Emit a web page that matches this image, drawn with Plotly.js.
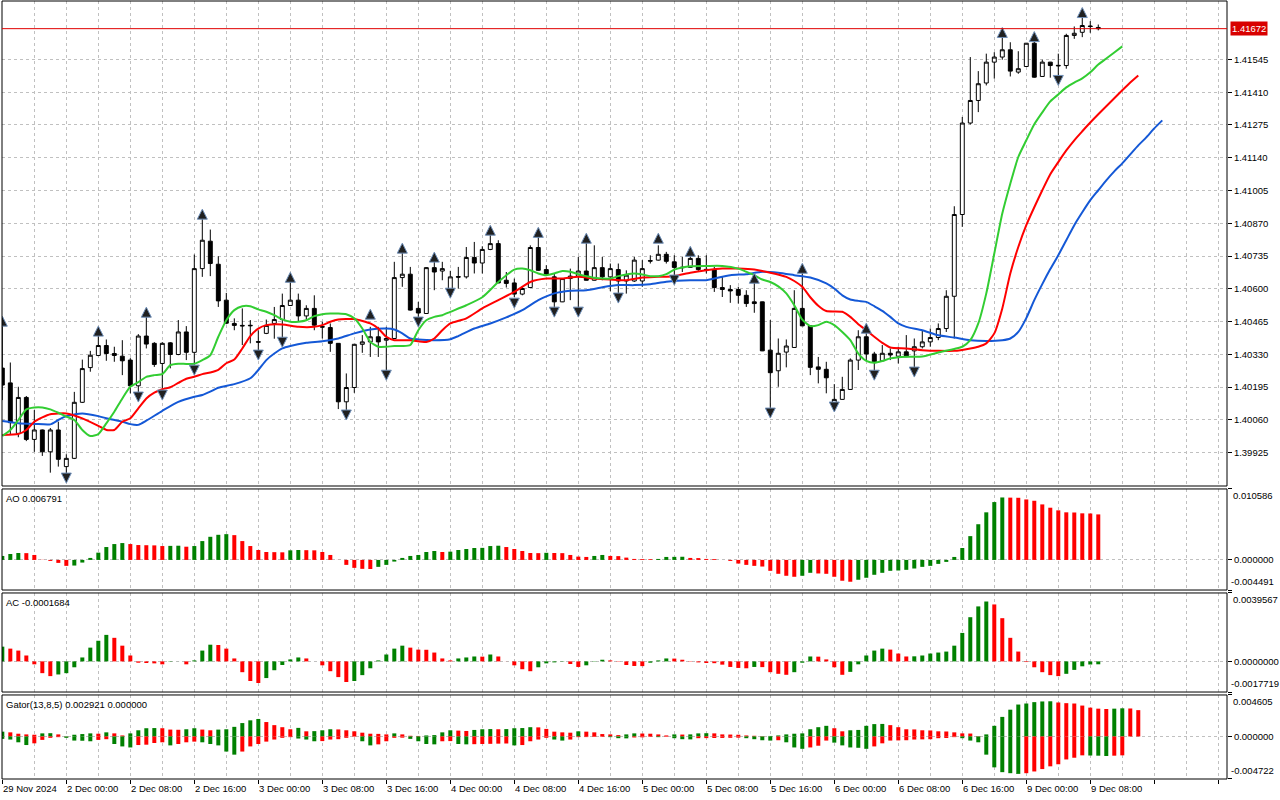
<!DOCTYPE html>
<html><head><meta charset="utf-8">
<script src="https://cdn.plot.ly/plotly-3.0.1.min.js"></script>
<style>html,body{margin:0;padding:0;background:#fff;overflow:hidden}#chart{width:1280px;height:800px}</style>
</head><body><div id="chart"></div>
<script>
// ---- candles (H1, 29 Nov 16:00 .. 9 Dec 09:00) ----
const open=[
1.40273,1.40212,1.40004,1.40152,1.39979,1.40018,1.39928,1.40018,1.39867,1.39901,
1.40132,1.40275,1.40325,1.40366,1.40333,1.40322,1.40306,1.40200,1.40405,1.40375,
1.40292,1.40377,1.40329,1.40422,1.40338,1.40683,1.40796,1.40701,1.40553,1.40457,
1.40449,1.40447,1.40382,1.40416,1.40457,1.40473,1.40531,1.40553,1.40488,1.40519,
1.40444,1.40440,1.40375,1.40134,1.40193,1.40371,1.40381,1.40402,1.40388,1.40395,
1.40646,1.40660,1.40519,1.40498,1.40687,1.40673,1.40597,1.40650,1.40649,1.40729,
1.40706,1.40762,1.40786,1.40635,1.40624,1.40578,1.40605,1.40770,1.40679,1.40649,
1.40546,1.40642,1.40652,1.40673,1.40635,1.40687,1.40649,1.40679,1.40632,1.40632,
1.40632,1.40716,1.40718,1.40742,1.40711,1.40689,1.40688,1.40725,1.40680,1.40679,
1.40605,1.40597,1.40597,1.40573,1.40546,1.40546,1.40347,1.40262,1.40339,1.40358,
1.40519,1.40447,1.40278,1.40268,1.40128,1.40144,1.40185,1.40306,1.40402,1.40331,
1.40303,1.40334,1.40322,1.40340,1.40344,1.40361,1.40381,1.40399,1.40436,1.40569,
1.40906,1.41283,1.41376,1.41448,1.41534,1.41555,1.41585,1.41493,1.41516,1.41612,
1.41475,1.41534,1.41521,1.41520,1.41644,1.41657,1.41683,1.41677];
const high=[
1.40450,1.40296,1.40196,1.40158,1.40100,1.40020,1.40026,1.40052,1.39918,1.40175,
1.40308,1.40344,1.40409,1.40391,1.40361,1.40388,1.40314,1.40413,1.40487,1.40380,
1.40380,1.40380,1.40471,1.40446,1.40741,1.40907,1.40844,1.40734,1.40583,1.40478,
1.40519,1.40471,1.40429,1.40473,1.40525,1.40580,1.40632,1.40580,1.40532,1.40573,
1.40464,1.40457,1.40376,1.40251,1.40372,1.40409,1.40443,1.40443,1.40443,1.40711,
1.40752,1.40690,1.40546,1.40689,1.40718,1.40711,1.40674,1.40690,1.40772,1.40793,
1.40775,1.40825,1.40800,1.40669,1.40642,1.40611,1.40779,1.40813,1.40697,1.40663,
1.40643,1.40683,1.40731,1.40793,1.40779,1.40731,1.40704,1.40704,1.40676,1.40731,
1.40718,1.40738,1.40779,1.40752,1.40738,1.40731,1.40738,1.40738,1.40738,1.40690,
1.40649,1.40615,1.40608,1.40594,1.40628,1.40547,1.40471,1.40395,1.40391,1.40594,
1.40676,1.40448,1.40319,1.40299,1.40207,1.40237,1.40313,1.40429,1.40443,1.40340,
1.40368,1.40354,1.40361,1.40409,1.40395,1.40429,1.40436,1.40457,1.40594,1.40940,
1.41308,1.41555,1.41497,1.41569,1.41575,1.41640,1.41616,1.41579,1.41613,1.41626,
1.41544,1.41535,1.41569,1.41651,1.41681,1.41726,1.41703,1.41689];
const low=[
1.40141,1.39997,1.39988,1.39972,1.39928,1.39911,1.39842,1.39867,1.39819,1.39898,
1.40129,1.40258,1.40322,1.40303,1.40299,1.40244,1.40169,1.40169,1.40354,1.40278,
1.40189,1.40272,1.40326,1.40306,1.40285,1.40649,1.40652,1.40525,1.40454,1.40429,
1.40368,1.40375,1.40340,1.40413,1.40394,1.40391,1.40530,1.40464,1.40473,1.40429,
1.40395,1.40340,1.40104,1.40093,1.40171,1.40336,1.40319,1.40319,1.40254,1.40394,
1.40608,1.40510,1.40464,1.40497,1.40594,1.40635,1.40596,1.40601,1.40642,1.40663,
1.40663,1.40759,1.40623,1.40605,1.40566,1.40573,1.40604,1.40674,1.40656,1.40515,
1.40545,1.40553,1.40509,1.40634,1.40634,1.40635,1.40590,1.40580,1.40580,1.40628,
1.40608,1.40704,1.40716,1.40704,1.40652,1.40669,1.40687,1.40669,1.40663,1.40587,
1.40566,1.40542,1.40539,1.40525,1.40501,1.40343,1.40100,1.40196,1.40276,1.40357,
1.40446,1.40244,1.40210,1.40169,1.40127,1.40143,1.40184,1.40265,1.40306,1.40258,
1.40302,1.40306,1.40292,1.40318,1.40258,1.40354,1.40361,1.40388,1.40422,1.40395,
1.40855,1.41277,1.41328,1.41438,1.41466,1.41544,1.41475,1.41486,1.41515,1.41470,
1.41474,1.41470,1.41466,1.41507,1.41630,1.41637,1.41655,1.41665];
const close=[
1.40203,1.40048,1.40152,1.39979,1.40018,1.39928,1.40018,1.39897,1.39901,1.40132,
1.40271,1.40326,1.40366,1.40333,1.40325,1.40303,1.40200,1.40405,1.40372,1.40288,
1.40375,1.40329,1.40422,1.40338,1.40683,1.40800,1.40704,1.40550,1.40458,1.40449,
1.40447,1.40449,1.40380,1.40449,1.40473,1.40531,1.40553,1.40488,1.40519,1.40450,
1.40442,1.40375,1.40134,1.40193,1.40371,1.40381,1.40402,1.40381,1.40395,1.40646,
1.40660,1.40512,1.40500,1.40687,1.40669,1.40683,1.40649,1.40648,1.40729,1.40706,
1.40762,1.40786,1.40624,1.40622,1.40578,1.40601,1.40770,1.40676,1.40660,1.40546,
1.40642,1.40652,1.40673,1.40635,1.40687,1.40649,1.40683,1.40632,1.40656,1.40718,
1.40683,1.40714,1.40742,1.40713,1.40688,1.40687,1.40725,1.40679,1.40678,1.40605,
1.40597,1.40591,1.40573,1.40539,1.40539,1.40344,1.40254,1.40334,1.40364,1.40519,
1.40447,1.40276,1.40268,1.40233,1.40144,1.40185,1.40306,1.40402,1.40331,1.40299,
1.40334,1.40327,1.40340,1.40320,1.40361,1.40381,1.40399,1.40436,1.40569,1.40906,
1.41283,1.41376,1.41445,1.41534,1.41555,1.41585,1.41497,1.41507,1.41612,1.41472,
1.41534,1.41520,1.41519,1.41644,1.41653,1.41685,1.41681,1.41672];

// ---- time axis labels (one every 8 bars) ----
const timeLabels=['29 Nov 2024','2 Dec 00:00','2 Dec 08:00','2 Dec 16:00','3 Dec 00:00','3 Dec 08:00','3 Dec 16:00','4 Dec 00:00','4 Dec 08:00','4 Dec 16:00','5 Dec 00:00','5 Dec 08:00','5 Dec 16:00','6 Dec 00:00','6 Dec 08:00','6 Dec 16:00','9 Dec 00:00','9 Dec 08:00'];
const priceTicks=[1.39925,1.40060,1.40195,1.40330,1.40465,1.40600,1.40735,1.40870,1.41005,1.41140,1.41275,1.41410,1.41545];

// ---- Alligator (read at bar positions, lines shifted forward) ----
const jawIdx=[0,2,4,6,7,8,10,12,13,15,16,17,18,20,22,24,25,26,27,29,31,32,33,34,35,36,38,40,42,44,46,48,49,50,51,52,54,56,57,59,61,63,65,67,69,71,73,75,77,79,81,83,86,88,89,91,93,95,97,99,101,103,104,105,106,107,108,109,110,111,112,113,115,117,119,121,123,125,126,127,128,129,130,131,132,133,134,135,136,137,138,139,140,141,142,143,144,145];
const jawVal=[1.40055,1.40046,1.40043,1.40041,1.40059,1.40075,1.40086,1.40075,1.40066,1.40052,1.40042,1.40039,1.40056,1.40097,1.40134,1.40155,1.40162,1.40176,1.40192,1.40207,1.40231,1.40265,1.40306,1.40333,1.40354,1.40364,1.40377,1.40384,1.40395,1.40416,1.40432,1.40436,1.40432,1.40416,1.40395,1.40391,1.40388,1.40392,1.40405,1.40436,1.40457,1.40482,1.40512,1.40553,1.40581,1.40592,1.40594,1.40606,1.40615,1.40615,1.40619,1.40629,1.40635,1.40635,1.40642,1.40656,1.40660,1.40670,1.40666,1.40656,1.40646,1.40622,1.40601,1.40573,1.40556,1.40550,1.40546,1.40528,1.40509,1.40484,1.40457,1.40443,1.40429,1.40408,1.40399,1.40388,1.40385,1.40388,1.40395,1.40422,1.40479,1.40553,1.40619,1.40681,1.40738,1.40800,1.40862,1.40915,1.40965,1.41006,1.41047,1.41084,1.41117,1.41154,1.41191,1.41224,1.41261,1.41294];
const teethIdx=[0,2,3,4,5,6,8,10,12,13,14,15,16,17,18,19,20,21,22,23,24,25,26,27,28,29,30,31,32,33,35,37,39,40,41,42,44,46,47,48,49,51,53,54,55,56,58,60,62,64,66,68,70,72,74,76,78,80,82,84,86,88,90,92,94,96,98,99,100,101,102,103,105,106,107,108,109,110,111,113,115,117,119,121,122,123,124,125,126,127,128,129,130,131,132,133,134,135,136,137,138,139,140,141,142];
const teethVal=[1.39997,1.40001,1.40018,1.40052,1.40070,1.40083,1.40086,1.40066,1.40035,1.40018,1.40018,1.40052,1.40066,1.40107,1.40148,1.40172,1.40186,1.40194,1.40212,1.40229,1.40237,1.40248,1.40255,1.40266,1.40293,1.40308,1.40354,1.40405,1.40436,1.40450,1.40453,1.40443,1.40443,1.40450,1.40464,1.40473,1.40475,1.40457,1.40436,1.40402,1.40388,1.40388,1.40381,1.40395,1.40429,1.40457,1.40478,1.40519,1.40553,1.40587,1.40628,1.40642,1.40642,1.40649,1.40642,1.40638,1.40635,1.40646,1.40649,1.40652,1.40666,1.40676,1.40683,1.40683,1.40679,1.40666,1.40649,1.40632,1.40608,1.40565,1.40530,1.40508,1.40505,1.40484,1.40454,1.40429,1.40402,1.40377,1.40358,1.40354,1.40347,1.40344,1.40344,1.40354,1.40361,1.40375,1.40416,1.40519,1.40663,1.40772,1.40862,1.40936,1.41006,1.41072,1.41122,1.41170,1.41212,1.41249,1.41285,1.41319,1.41352,1.41385,1.41418,1.41450,1.41479];
const lipsIdx=[0,1,2,3,4,5,6,7,8,9,10,11,12,13,14,15,16,17,18,19,20,21,22,23,24,25,26,27,28,29,30,31,32,33,34,35,36,37,38,39,40,41,42,43,44,45,46,47,48,49,50,51,52,53,54,55,56,58,60,62,64,65,66,67,68,69,70,71,72,73,74,75,76,77,78,79,80,81,82,83,84,85,86,88,90,92,93,94,95,96,97,98,99,100,101,102,103,104,105,106,107,108,109,110,111,113,115,117,119,120,121,122,123,124,125,126,127,128,129,130,131,132,133,134,135,136,137,138,139,140];
const lipsVal=[1.39993,1.40018,1.40059,1.40103,1.40111,1.40111,1.40103,1.40089,1.40073,1.40059,1.40018,1.39993,1.40001,1.40045,1.40093,1.40148,1.40196,1.40215,1.40237,1.40244,1.40248,1.40285,1.40291,1.40290,1.40291,1.40306,1.40326,1.40402,1.40470,1.40512,1.40528,1.40528,1.40515,1.40505,1.40491,1.40474,1.40464,1.40464,1.40470,1.40487,1.40495,1.40498,1.40498,1.40495,1.40478,1.40436,1.40381,1.40361,1.40361,1.40364,1.40364,1.40368,1.40429,1.40470,1.40484,1.40491,1.40505,1.40532,1.40565,1.40628,1.40679,1.40683,1.40676,1.40663,1.40656,1.40663,1.40673,1.40670,1.40660,1.40652,1.40645,1.40642,1.40642,1.40652,1.40659,1.40663,1.40659,1.40652,1.40652,1.40660,1.40679,1.40688,1.40693,1.40694,1.40694,1.40683,1.40670,1.40656,1.40638,1.40628,1.40610,1.40581,1.40532,1.40473,1.40446,1.40450,1.40464,1.40450,1.40422,1.40388,1.40333,1.40303,1.40295,1.40302,1.40313,1.40320,1.40321,1.40337,1.40352,1.40361,1.40388,1.40457,1.40581,1.40745,1.40910,1.41033,1.41143,1.41212,1.41278,1.41327,1.41372,1.41401,1.41430,1.41450,1.41467,1.41492,1.41524,1.41549,1.41574,1.41599];

// ---- Fractals (arrow positions) ----
const fracUpIdx=[0,12,18,25,36,46,50,54,61,67,73,82,86,94,100,108,125,129,135];
const fracUpVal=[1.40487,1.40446,1.40524,1.40928,1.40668,1.40516,1.40788,1.40751,1.40862,1.40853,1.40829,1.40829,1.40775,1.40664,1.40705,1.40458,1.41677,1.41660,1.41759];
const fracDnIdx=[8,17,20,24,32,35,43,48,52,56,64,69,72,77,84,96,104,109,114,132];
const fracDnVal=[1.39799,1.40133,1.40141,1.40244,1.40306,1.40359,1.40059,1.40223,1.40442,1.40561,1.40520,1.40483,1.40483,1.40541,1.40615,1.40067,1.40092,1.40223,1.40236,1.41438];

// ---- Awesome Oscillator ----
const ao=[0.000592,0.000887,0.001035,0.001011,0.000740,0.000025,-0.000148,-0.000444,-0.000887,-0.000838,
-0.000394,0.000296,0.001085,0.001923,0.002366,0.002514,0.002366,0.002219,0.002194,0.002169,
0.002071,0.002095,0.002120,0.001972,0.002071,0.002810,0.003451,0.003747,0.003845,0.003698,
0.002810,0.002071,0.001479,0.001183,0.001159,0.001134,0.001430,0.001479,0.001454,0.001430,
0.001183,0.000740,0.000010,-0.000740,-0.001183,-0.001331,-0.001356,-0.001035,-0.000740,-0.000247,
0.000296,0.000592,0.000740,0.001183,0.001331,0.001183,0.001233,0.001479,0.001627,0.001775,
0.001799,0.002071,0.002120,0.001923,0.001627,0.001331,0.001035,0.001011,0.001060,0.001035,
0.001011,0.000740,0.000493,0.000444,0.000592,0.000740,0.000592,0.000567,0.000345,0.000148,
0.000123,0.000108,0.000148,0.000444,0.000458,0.000473,0.000296,0.000271,0.000148,0.000123,
0.000005,-0.000148,-0.000542,-0.000740,-0.000887,-0.000986,-0.001627,-0.002071,-0.002366,-0.002514,
-0.002366,-0.001923,-0.002021,-0.002071,-0.002514,-0.003106,-0.003254,-0.002958,-0.002662,-0.002219,
-0.001923,-0.001627,-0.001578,-0.001479,-0.001282,-0.001035,-0.000887,-0.000592,-0.000296,0.000444,
0.001775,0.003550,0.005324,0.007099,0.008628,0.009318,0.009293,0.009268,0.009022,0.008825,
0.008282,0.007789,0.007395,0.007099,0.007075,0.006951,0.006927,0.006791];
const aoScale=[-0.004491,0.000000,0.010586];

// ---- Accelerator Oscillator ----
const ac=[0.000852,0.000738,0.000625,0.000341,-0.000170,-0.000681,-0.000852,-0.000757,-0.000681,-0.000341,
0.000227,0.000795,0.001193,0.001533,0.001363,0.000909,0.000341,-0.000076,-0.000095,-0.000114,
-0.000170,-0.000019,0.000002,-0.000170,0.000057,0.000625,0.000965,0.000947,0.000738,0.000170,
-0.000625,-0.001136,-0.001249,-0.000965,-0.000511,-0.000208,0.000114,0.000227,0.000170,-0.000002,
-0.000227,-0.000568,-0.000909,-0.001193,-0.001136,-0.000795,-0.000398,0.000057,0.000398,0.000738,
0.000909,0.000795,0.000681,0.000672,0.000511,0.000170,0.000057,0.000170,0.000227,0.000284,
0.000274,0.000398,0.000284,-0.000004,-0.000227,-0.000454,-0.000568,-0.000341,-0.000114,-0.000057,
-0.000019,-0.000151,-0.000322,-0.000227,-0.000019,0.000095,0.000057,-0.000019,-0.000208,-0.000265,
-0.000274,-0.000076,0.000057,0.000170,0.000161,0.000095,-0.000019,-0.000057,-0.000095,-0.000104,
-0.000189,-0.000322,-0.000379,-0.000398,-0.000322,-0.000331,-0.000625,-0.000719,-0.000776,-0.000625,
-0.000076,0.000284,0.000274,0.000114,-0.000341,-0.000776,-0.000606,-0.000170,0.000341,0.000625,
0.000738,0.000681,0.000454,0.000284,0.000293,0.000341,0.000454,0.000511,0.000568,0.000909,
0.001647,0.002556,0.003180,0.003464,0.003294,0.002499,0.001363,0.000568,-0.000038,-0.000341,
-0.000625,-0.000795,-0.000852,-0.000719,-0.000492,-0.000284,-0.000180,-0.0001684];
const acScale=[-0.0017719,0.0000000,0.0039567];

// ---- Gator Oscillator (13,8,5) ----
const gatorUp=[0.000533,0.000457,0.000305,0.000229,0.000191,0.000343,0.000362,0.000229,0.000019,0.000191,
0.000267,0.000343,0.000305,0.000457,0.000343,0.000114,0.000343,0.000686,0.000914,0.000933,
0.000914,0.000762,0.000743,0.000800,0.000914,0.000762,0.000686,0.000762,0.000800,0.001067,
0.001486,0.001791,0.001943,0.001600,0.001257,0.001029,0.000800,0.000953,0.000572,0.000591,
0.000686,0.000800,0.000781,0.000686,0.000572,0.000419,0.000305,0.000286,0.000229,0.000343,
0.000229,0.000076,0.000057,0.000114,0.000152,0.000457,0.000686,0.000648,0.000610,0.000724,
0.000800,0.000819,0.000800,0.000819,0.000914,0.000933,0.001029,0.001010,0.000838,0.000533,
0.000457,0.000419,0.000572,0.000533,0.000457,0.000267,0.000229,0.000152,0.000229,0.000343,
0.000324,0.000305,0.000229,0.000114,0.000229,0.000210,0.000229,0.000343,0.000362,0.000343,
0.000229,0.000210,0.000191,0.000114,0.000076,0.000038,0.000057,0.000114,0.000229,0.000305,
0.000343,0.000800,0.001029,0.001181,0.000914,0.000572,0.000686,0.000724,0.001181,0.001372,
0.001391,0.001257,0.001029,0.000800,0.000781,0.000686,0.000667,0.000572,0.000552,0.000457,
0.000343,0.000324,0.000038,0.000229,0.001181,0.002172,0.002972,0.003543,0.003658,0.003810,
0.003886,0.003905,0.003772,0.003696,0.003658,0.003429,0.003200,0.003086,0.003048,0.003086,
0.003124,0.003105,0.002921];
const gatorDn=[-0.000267,-0.000343,-0.000648,-0.000953,-0.000762,-0.000381,-0.000152,-0.000076,-0.000152,-0.000457,
-0.000476,-0.000533,-0.000381,-0.000305,-0.000838,-0.001105,-0.001219,-0.000953,-0.000914,-0.000724,
-0.000648,-0.000991,-0.000838,-0.000648,-0.000572,-0.000648,-0.000838,-0.000991,-0.001676,-0.002019,
-0.001676,-0.001105,-0.000838,-0.000572,-0.000343,-0.000152,-0.000076,-0.000229,-0.000343,-0.000533,
-0.000514,-0.000343,-0.000305,-0.000152,-0.000019,-0.000533,-0.000991,-0.000876,-0.000533,-0.000152,
-0.000133,-0.000267,-0.000533,-0.000838,-0.000876,-0.000533,-0.000514,-0.000838,-0.000876,-0.000857,
-0.000838,-0.000819,-0.000800,-0.000781,-0.000991,-0.000953,-0.000533,-0.000343,-0.000152,-0.000343,
-0.000457,-0.000343,-0.000076,-0.000069,-0.000057,-0.000038,-0.000076,-0.000191,-0.000210,-0.000114,
-0.000095,-0.000038,-0.000076,-0.000038,-0.000191,-0.000305,-0.000324,-0.000191,-0.000183,-0.000171,
-0.000164,-0.000152,-0.000133,-0.000191,-0.000305,-0.000419,-0.000457,-0.000419,-0.000648,-0.001219,
-0.001372,-0.001219,-0.001029,-0.000457,-0.000686,-0.000991,-0.001219,-0.001257,-0.001372,-0.001105,
-0.000762,-0.000457,-0.000438,-0.000419,-0.000343,-0.000324,-0.000305,-0.000191,-0.000171,-0.000076,
-0.000191,-0.000457,-0.000648,-0.002019,-0.003429,-0.003962,-0.004077,-0.004153,-0.004077,-0.003886,
-0.003620,-0.003315,-0.003086,-0.002553,-0.002362,-0.002096,-0.002115,-0.002134,-0.002172,-0.002134,
-0.002096];
const gatorScale=[-0.004722,0.000000,0.004605];

// ================= drawing =================
const GREEN='#008000', RED='#ff0000', GRID='#c0c0c0', FONT='Liberation Sans, Arial, sans-serif';
const idx=close.map((_,i)=>i);
const upDown=(arr,absMode)=>arr.map((v,i)=>{
  if(i===0) return GREEN;
  const a=absMode?Math.abs(v):v, b=absMode?Math.abs(arr[i-1]):arr[i-1];
  return a>=b?GREEN:RED;
});
const seq=n=>Array.from({length:n},(_,i)=>i);

const traces=[
 {type:'scatter',mode:'lines',x:jawIdx,y:jawVal,line:{color:'#1458d6',width:2,shape:'spline',smoothing:0.6},xaxis:'x',yaxis:'y',hoverinfo:'skip'},
 {type:'scatter',mode:'lines',x:teethIdx,y:teethVal,line:{color:'#ff0000',width:2,shape:'spline',smoothing:0.6},xaxis:'x',yaxis:'y',hoverinfo:'skip'},
 {type:'scatter',mode:'lines',x:lipsIdx,y:lipsVal,line:{color:'#32cd32',width:2,shape:'spline',smoothing:0.6},xaxis:'x',yaxis:'y',hoverinfo:'skip'},
 {type:'candlestick',x:idx,open:open,high:high,low:low,close:close,xaxis:'x',yaxis:'y',
  increasing:{line:{color:'#000000',width:1},fillcolor:'#ffffff'},
  decreasing:{line:{color:'#000000',width:1},fillcolor:'#000000'},
  whiskerwidth:0,hoverinfo:'skip'},
 {type:'scatter',mode:'markers',x:fracUpIdx,y:fracUpVal,xaxis:'x',yaxis:'y',
  marker:{symbol:'arrow-up',size:10,color:'#202020',line:{color:'#6f8fb8',width:1}},hoverinfo:'skip'},
 {type:'scatter',mode:'markers',x:fracDnIdx,y:fracDnVal,xaxis:'x',yaxis:'y',
  marker:{symbol:'arrow-down',size:10,color:'#202020',line:{color:'#6f8fb8',width:1}},hoverinfo:'skip'},
 {type:'bar',x:idx,y:ao,width:0.5,marker:{color:upDown(ao,false),line:{width:0}},xaxis:'x',yaxis:'y2',hoverinfo:'skip'},
 {type:'bar',x:idx,y:ac,width:0.5,marker:{color:upDown(ac,false),line:{width:0}},xaxis:'x',yaxis:'y3',hoverinfo:'skip'},
 {type:'bar',x:seq(gatorUp.length),y:gatorUp,width:0.5,marker:{color:upDown(gatorUp,true),line:{width:0}},xaxis:'x',yaxis:'y4',hoverinfo:'skip'},
 {type:'bar',x:seq(gatorDn.length),y:gatorDn,width:0.5,marker:{color:upDown(gatorDn,true),line:{width:0}},xaxis:'x',yaxis:'y4',hoverinfo:'skip'}
];

const domMain=[0.3766,1], domAO=[0.2429,0.3728], domAC=[0.1118,0.2391], domG=[0,0.108];
const tf={family:FONT,size:9.5,color:'#000'};
const subAxis=(dom,scale,digits)=>({
  domain:dom, range:[scale[0],scale[2]], side:'right', anchor:'x',
  tickmode:'array', tickvals:scale, ticktext:['',scale[1].toFixed(digits),''],
  ticks:'outside', ticklen:4, tickcolor:'#000', tickfont:tf,
  showgrid:true, gridcolor:GRID, griddash:'3px,3px', zeroline:false, showline:false, fixedrange:true
});

const annotations=[];
timeLabels.forEach((t,k)=>annotations.push({xref:'x',x:k*8,xanchor:'left',xshift:0,yref:'paper',y:0,yanchor:'top',yshift:-3,
  text:t,showarrow:false,font:tf,borderpad:0}));
const subs=[['y2',aoScale,6],['y3',acScale,7],['y4',gatorScale,6]];
subs.forEach(([ax,s,d])=>{
  annotations.push({xref:'paper',x:1,xanchor:'left',xshift:5,yref:ax,y:s[2],yanchor:'top',yshift:0,text:s[2].toFixed(d),showarrow:false,font:tf,borderpad:0});
  annotations.push({xref:'paper',x:1,xanchor:'left',xshift:3,yref:ax,y:s[0],yanchor:'bottom',yshift:2,text:s[0].toFixed(d),showarrow:false,font:tf,borderpad:0});
});
const last=close[close.length-1];
annotations.push({xref:'paper',x:1,xanchor:'left',xshift:3,yref:'y',y:last,yanchor:'middle',text:last.toFixed(5),
  showarrow:false,font:{family:FONT,size:9.5,color:'#ffffff'},bgcolor:'#d80000',borderpad:1});
annotations.push({xref:'paper',x:0,xanchor:'left',xshift:3,yref:'y2 domain',y:1,yanchor:'top',yshift:-3,
  text:'AO '+ao[ao.length-1].toFixed(6),showarrow:false,font:tf,borderpad:0});
annotations.push({xref:'paper',x:0,xanchor:'left',xshift:3,yref:'y3 domain',y:1,yanchor:'top',yshift:-3,
  text:'AC '+ac[ac.length-1].toFixed(7),showarrow:false,font:tf,borderpad:0});
annotations.push({xref:'paper',x:0,xanchor:'left',xshift:3,yref:'y4 domain',y:1,yanchor:'top',yshift:-3,
  text:'Gator(13,8,5) '+gatorUp[gatorUp.length-1].toFixed(6)+' '+(0).toFixed(6),showarrow:false,font:tf,borderpad:0});

const shapes=[domMain,domAO,domAC,domG].map(d=>({type:'rect',xref:'paper',yref:'paper',x0:0,x1:1,y0:d[0],y1:d[1],
  line:{color:'#000',width:1},fillcolor:'rgba(0,0,0,0)',layer:'above'}));
shapes.push({type:'line',xref:'paper',x0:0,x1:1,yref:'y',y0:last,y1:last,line:{color:'#e00000',width:1},layer:'above'});

const layout={
  width:1280,height:800,margin:{l:2,r:53,t:1,b:21},
  paper_bgcolor:'#ffffff',plot_bgcolor:'#ffffff',showlegend:false,hovermode:false,
  barmode:'overlay',
  font:tf,
  xaxis:{domain:[0,1],range:[-0.04,153.09],anchor:'y4',tickmode:'linear',tick0:0,dtick:8,
    ticks:'outside',ticklen:4,tickcolor:'#000',showticklabels:false,
    showgrid:true,gridcolor:GRID,griddash:'3px,3px',
    minor:{tickmode:'linear',tick0:0,dtick:4,showgrid:true,gridcolor:GRID,griddash:'3px,3px',ticks:''},
    zeroline:false,showline:false,rangeslider:{visible:false},fixedrange:true},
  yaxis:{domain:domMain,range:[1.39787,1.41786],side:'right',anchor:'x',
    tickmode:'array',tickvals:priceTicks,ticktext:priceTicks.map(v=>v.toFixed(5)),
    ticks:'outside',ticklen:4,tickcolor:'#000',tickfont:tf,
    showgrid:true,gridcolor:GRID,griddash:'3px,3px',zeroline:false,showline:false,fixedrange:true},
  yaxis2:subAxis(domAO,aoScale,6),
  yaxis3:subAxis(domAC,acScale,7),
  yaxis4:subAxis(domG,gatorScale,6),
  annotations:annotations,shapes:shapes
};
Plotly.newPlot('chart',traces,layout,{staticPlot:true,displayModeBar:false});
</script></body></html>
